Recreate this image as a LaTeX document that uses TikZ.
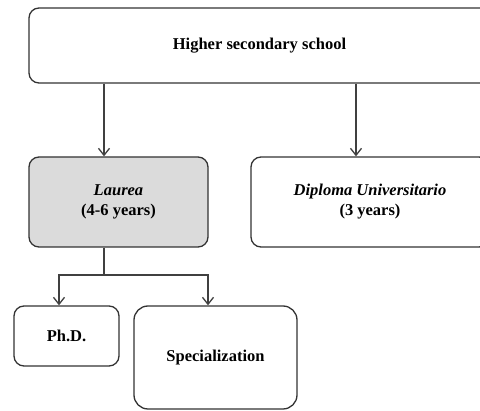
\documentclass[tikz,border=0pt]{standalone}
\usepackage{fontspec}
\setmainfont{Liberation Serif}
\usetikzlibrary{arrows.meta}
\begin{document}
\begin{tikzpicture}[x=1pt,y=-1pt,
  box/.style={draw=black!80,line width=1.3pt,rounded corners=10pt,fill=white,
    align=center,font=\fontsize{16.5}{20}\selectfont\bfseries,inner sep=0pt},
  conn/.style={draw=black!75,line width=1.3pt},
  arr/.style={conn,-{Straight Barb[length=7pt,width=11pt,line width=1.3pt]}}]
\useasboundingbox (0,0) rectangle (480,411);
\node[box,minimum width=461pt,minimum height=75pt] (hs) at (259.5,45.5) {\raisebox{3pt}{Higher secondary school}};
\node[box,fill=black!14,minimum width=179pt,minimum height=90pt] (la) at (118.5,202) {\textit{Laurea}\\(4-6 years)};
\node[box,minimum width=238pt,minimum height=90pt] (du) at (370,202) {\textit{Diploma Universitario}\\(3 years)};
\node[box,minimum width=105pt,minimum height=60pt] (phd) at (66.5,336) {Ph.D.};
\node[box,rounded corners=14pt,minimum width=163pt,minimum height=103pt] (sp) at (215.5,357.5) {Specialization};
\coordinate (j) at (104,275);
\draw[arr] (hs.south -| 104,0) -- (la.north -| 104,0);
\draw[arr] (hs.south -| 356,0) -- (du.north -| 356,0);
\draw[conn] (la.south -| j) -- (j);
\draw[arr] (j) -| (phd.north -| 59,0);
\draw[arr] (j) -| (sp.north -| 208,0);
\end{tikzpicture}
\end{document}
